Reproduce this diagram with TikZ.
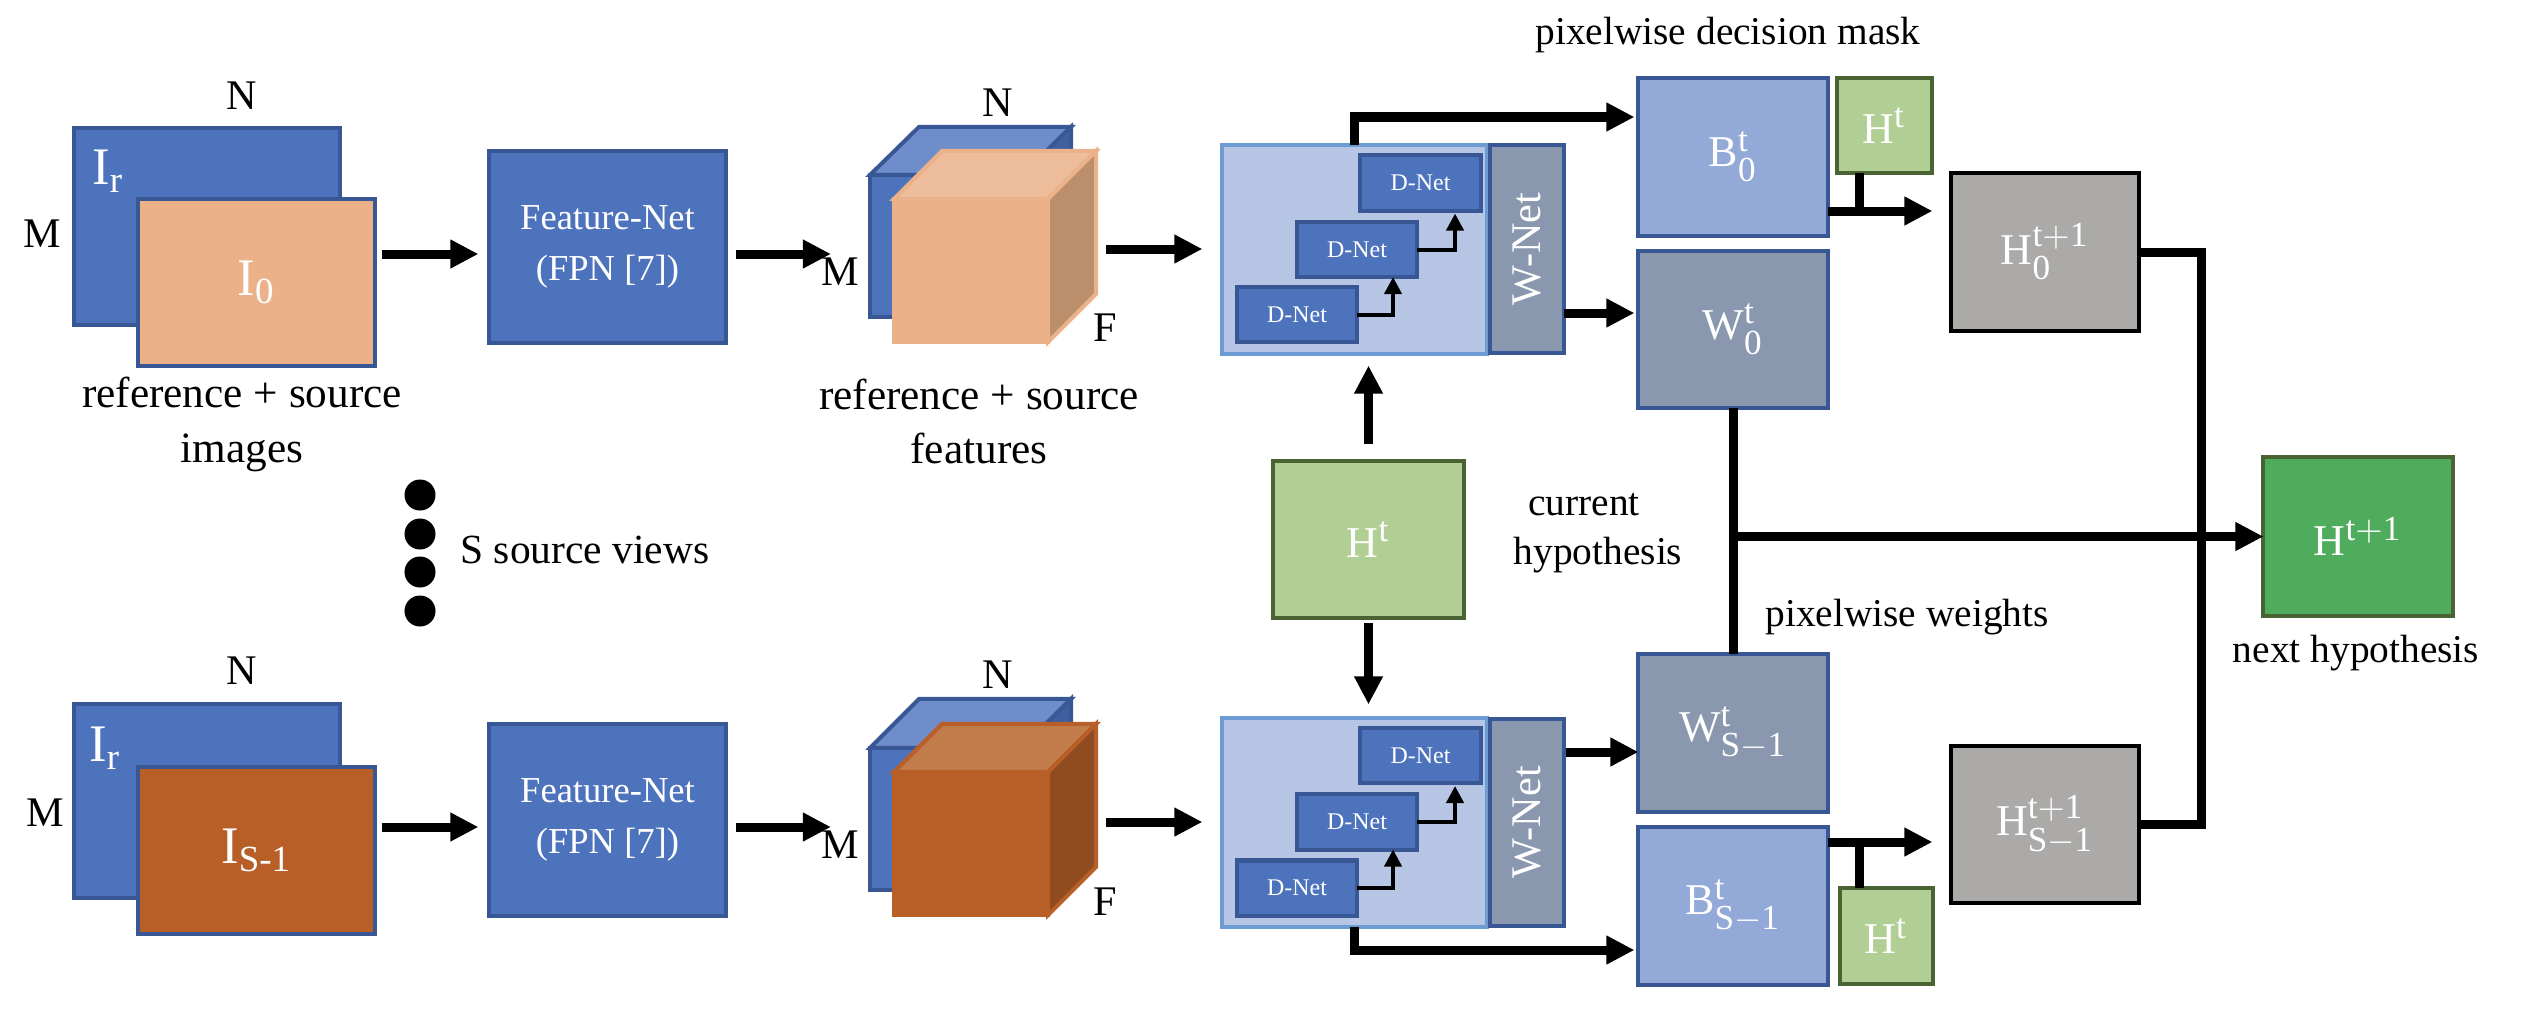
\documentclass[tikz,border=0pt]{standalone}
\usepackage{amsmath}
\usepackage{fontspec}
\setmainfont{Liberation Serif}
\usepackage{tikz}
\usetikzlibrary{arrows.meta,calc}
\DeclareMathSizes{12.5}{12.5}{10}{8}
\definecolor{netblue}{HTML}{4E73BD}
\definecolor{edgeblue}{HTML}{3A5795}
\definecolor{peach}{HTML}{EBB28A}
\definecolor{peachtop}{HTML}{EDBD9C}
\definecolor{peachside}{HTML}{BB8E6C}
\definecolor{rust}{HTML}{B85F28}
\definecolor{rusttop}{HTML}{C27C4B}
\definecolor{rustside}{HTML}{914B20}
\definecolor{cubetop}{HTML}{6F8DCB}
\definecolor{cubeside}{HTML}{3F5F9E}
\definecolor{panelfill}{HTML}{B7C6E4}
\definecolor{paneledge}{HTML}{6D9BD4}
\definecolor{slate}{HTML}{8A98AF}
\definecolor{maskblue}{HTML}{93A9D8}
\definecolor{hypgreen}{HTML}{B1CF95}
\definecolor{hypedge}{HTML}{4A6332}
\definecolor{nextgreen}{HTML}{4FAC5C}
\definecolor{stategray}{HTML}{ABAAA8}
\tikzset{
  netbox/.style={
    rectangle, draw=edgeblue, fill=#1, line width=0.04cm,
    text=white, inner sep=0pt, outer sep=0pt, align=center,
    font=\fontsize{10.4}{14.5}\selectfont
  },
  netbox/.default=netblue,
  dnet/.style={
    netbox, minimum width=1.2cm, minimum height=0.55cm,
    font=\fontsize{6.8}{8}\selectfont
  },
  wnet/.style={
    netbox=slate, minimum width=0.74cm, minimum height=2.07cm,
    font=\fontsize{12}{13}\selectfont
  },
  panel/.style={
    rectangle, draw=paneledge, fill=panelfill, line width=0.04cm, outer sep=0pt,
    minimum width=2.64cm, minimum height=2.08cm
  },
  valbox/.style={
    netbox=#1, minimum width=1.89cm, minimum height=1.57cm,
    font=\fontsize{12.5}{14}\selectfont
  },
  hypbox/.style={
    valbox=#1, draw=hypedge
  },
  hypbox/.default=hypgreen,
  statebox/.style={
    valbox=stategray, draw=black, minimum width=1.87cm
  },
  fatarrow/.style={
    -{Triangle[length=0.28cm, width=0.27cm]}, line width=0.09cm
  },
  fatwire/.style={line width=0.09cm},
  thinarrow/.style={
    -{Triangle[length=0.17cm, width=0.17cm]}, line width=0.04cm
  },
  labelnode/.style={
    font=\fontsize{12.3}{15.6}\selectfont, align=center, inner sep=0pt
  },
  notenode/.style={
    font=\fontsize{11.2}{13}\selectfont, align=center, inner sep=0pt
  },
  dimnode/.style={
    font=\fontsize{12}{14}\selectfont, inner sep=0pt
  },
  srcnode/.style={
    font=\fontsize{15}{18}\selectfont, text=white, inner sep=0pt
  },
  dotnode/.style={
    circle, fill=black, minimum size=0.31cm, inner sep=0pt
  },
}

\begin{document}
\begin{tikzpicture}[x=0.01cm, y=-0.01cm]
  \useasboundingbox (0,0) rectangle (2522,1018);

  % Upper row: images
  \node[netbox, minimum width=2.65cm, minimum height=1.96cm] (ir0) at (207,226.5) {};
  \node[srcnode] (ir0txt) at (108,171) {$\mathrm{I}_{\mathrm{r}}$};
  \node[netbox=peach, minimum width=2.36cm, minimum height=1.66cm, font=\fontsize{15}{18}\selectfont] (i0) at (256.5,282.5) {$\mathrm{I}_{\mathrm{0}}$};
  \node[netbox, minimum width=2.36cm, minimum height=1.91cm] (fn0) at (607.5,247) {Feature-Net\\(FPN [7])};
  \node[dimnode] (n0a) at (242,96) {N};
  \node[dimnode] (m0a) at (42,234) {M};
  \node[labelnode] (cap0a) at (242,424.5) {reference + source\\images};

  % Upper row: feature cube
  \node[netbox, minimum width=1.52cm, minimum height=1.42cm] (cb0) at (946,246) {};
  \draw[draw=edgeblue, fill=cubetop, line width=0.04cm] (cb0.north west) -- ++(49,-48) -- ++(152,0) -- (cb0.north east) -- cycle;
  \draw[draw=edgeblue, fill=cubeside, line width=0.04cm] (cb0.north east) -- ++(49,-48) -- ++(0,142) -- (cb0.south east) -- cycle;
  \node[netbox=peach, draw=peach, minimum width=1.54cm, minimum height=1.43cm] (cf0) at (971,270.5) {};
  \draw[draw=peach, fill=peachtop, line width=0.04cm] (cf0.north west) -- ++(48,-48) -- ++(154,0) -- (cf0.north east) -- cycle;
  \draw[draw=peach, fill=peachside, line width=0.04cm] (cf0.north east) -- ++(48,-48) -- ++(0,143) -- (cf0.south east) -- cycle;
  \node[dimnode] (n0b) at (998,103) {N};
  \node[dimnode] (m0b) at (840,272) {M};
  \node[dimnode] (f0) at (1105,328) {F};
  \node[labelnode] (cap0b) at (979,421.5) {reference + source\\features};

  % Upper row: D-Net and W-Net
  \node[panel] (panel0) at (1354.5,249.5) {};
  \node[wnet] (wn0) at (1526.5,249) {\rotatebox{90}{W-Net}};
  \node[dnet] (d03) at (1420.5,183) {D-Net};
  \node[dnet] (d02) at (1357,249.5) {D-Net};
  \node[dnet] (d01) at (1297,314.5) {D-Net};
  \draw[thinarrow] (d01.east) -| ([xshift=0.36cm]d02.south);
  \draw[thinarrow, shorten >=0.03cm] (d02.east) -| ([xshift=0.345cm]d03.south);

  % Upper row: outputs
  \node[valbox=maskblue] (b0) at (1733,157) {$\mathrm{B}^{\mathrm{t}}_{\mathrm{0}}$};
  \node[valbox=slate] (w0) at (1733,329.5) {$\mathrm{W}^{\mathrm{t}}_{\mathrm{0}}$};
  \node[hypbox, minimum width=0.95cm, minimum height=0.94cm] (ht0) at (1884,125.5) {$\mathrm{H}^{\mathrm{t}}$};
  \node[statebox] (h0) at (2045,252) {$\mathrm{H}^{\mathrm{t+1}}_{\mathrm{0}}$};
  \node[notenode] (capb) at (1728,35) {pixelwise decision mask};

  % Lower row: images
  \node[netbox, minimum width=2.65cm, minimum height=1.93cm] (ir1) at (207,801) {};
  \node[srcnode] (ir1txt) at (105,748) {$\mathrm{I}_{\mathrm{r}}$};
  \node[netbox=rust, minimum width=2.36cm, minimum height=1.66cm, font=\fontsize{15}{18}\selectfont] (i1) at (256.5,850.5) {$\mathrm{I}_{\mathrm{S\text{-}1}}$};
  \node[netbox, minimum width=2.36cm, minimum height=1.91cm] (fn1) at (607.5,820) {Feature-Net\\(FPN [7])};
  \node[dimnode] (n1a) at (242,671) {N};
  \node[dimnode] (m1a) at (45,813) {M};

  % Lower row: feature cube
  \node[netbox, minimum width=1.52cm, minimum height=1.42cm] (cb1) at (946,819) {};
  \draw[draw=edgeblue, fill=cubetop, line width=0.04cm] (cb1.north west) -- ++(49,-49) -- ++(152,0) -- (cb1.north east) -- cycle;
  \draw[draw=edgeblue, fill=cubeside, line width=0.04cm] (cb1.north east) -- ++(49,-49) -- ++(0,142) -- (cb1.south east) -- cycle;
  \node[netbox=rust, draw=rust, minimum width=1.54cm, minimum height=1.43cm] (cf1) at (971,843.5) {};
  \draw[draw=rust, fill=rusttop, line width=0.04cm] (cf1.north west) -- ++(48,-48) -- ++(154,0) -- (cf1.north east) -- cycle;
  \draw[draw=rust, fill=rustside, line width=0.04cm] (cf1.north east) -- ++(48,-48) -- ++(0,143) -- (cf1.south east) -- cycle;
  \node[dimnode] (n1b) at (998,675) {N};
  \node[dimnode] (m1b) at (840,845) {M};
  \node[dimnode] (f1) at (1105,902) {F};

  % Lower row: D-Net and W-Net
  \node[panel] (panel1) at (1354.5,822.5) {};
  \node[wnet] (wn1) at (1526.5,822.5) {\rotatebox{90}{W-Net}};
  \node[dnet] (d13) at (1420.5,755.5) {D-Net};
  \node[dnet] (d12) at (1357,822) {D-Net};
  \node[dnet] (d11) at (1297,888) {D-Net};
  \draw[thinarrow] (d11.east) -| ([xshift=0.36cm]d12.south);
  \draw[thinarrow, shorten >=0.03cm] (d12.east) -| ([xshift=0.345cm]d13.south);

  % Lower row: outputs
  \node[valbox=slate] (ws) at (1733,733) {$\mathrm{W}^{\mathrm{t}}_{\mathrm{S-1}}$};
  \node[valbox=maskblue] (bs) at (1733,906) {$\mathrm{B}^{\mathrm{t}}_{\mathrm{S-1}}$};
  \node[hypbox, minimum width=0.93cm, minimum height=0.95cm] (ht1) at (1886,936) {$\mathrm{H}^{\mathrm{t}}$};
  \node[statebox, minimum height=1.56cm] (hs) at (2045,824.5) {$\mathrm{H}^{\mathrm{t+1}}_{\mathrm{S-1}}$};

  % Middle
  \node[hypbox, minimum width=1.9cm, minimum height=1.56cm] (ht) at (1368.5,539.5) {$\mathrm{H}^{\mathrm{t}}$};
  \node[hypbox=nextgreen, minimum height=1.58cm] (hnext) at (2358,536.5) {$\mathrm{H}^{\mathrm{t+1}}$};
  \node[notenode] (capcur) at (1584,505) {current};
  \node[notenode] (caphyp) at (1598,555) {hypothesis};
  \node[notenode] (capw) at (1907,617) {pixelwise weights};
  \node[notenode] (capn) at (2356,653) {next hypothesis};
  \node[dotnode] (dot1) at (420,495) {};
  \node[dotnode] (dot2) at (420,534) {};
  \node[dotnode] (dot3) at (420,572) {};
  \node[dotnode] (dot4) at (420,611) {};
  \node[labelnode, font=\fontsize{11.8}{14}\selectfont] (capviews) at (585,550) {S source views};

  % Row heights of the arrows
  \coordinate (y0a) at (0,254);
  \coordinate (y0b) at (0,249);
  \coordinate (y0c) at (0,117);
  \coordinate (y0d) at (0,313);
  \coordinate (tap0) at (1859,211);
  \coordinate (y1a) at (0,827);
  \coordinate (y1b) at (0,822);
  \coordinate (y1c) at (0,950);
  \coordinate (y1d) at (0,752);
  \coordinate (tap1) at (1859,842);
  \coordinate (bus) at (2201,536.5);

  % Arrows
  \draw[fatarrow, shorten <=0.07cm, shorten >=0.11cm] (i0.east |- y0a) -- (fn0.west |- y0a);
  \draw[fatarrow, shorten <=0.1cm, shorten >=0.39cm] (fn0.east |- y0a) -- (cb0.west |- y0a);
  \draw[fatarrow, shorten <=0.1cm, shorten >=0.2cm] ([xshift=0.48cm]cf0.east |- y0b) -- (panel0.west |- y0b);
  \draw[fatarrow, shorten >=0.04cm] (panel0.north) |- (b0.west |- y0c);
  \draw[fatarrow, shorten >=0.04cm] (wn0.east |- y0d) -- (w0.west |- y0d);
  \draw[fatwire] (tap0 |- ht0.south) -- (tap0);
  \draw[fatarrow, shorten >=0.19cm] (b0.east |- tap0) -- (h0.west |- tap0);

  \draw[fatarrow, shorten <=0.07cm, shorten >=0.11cm] (i1.east |- y1a) -- (fn1.west |- y1a);
  \draw[fatarrow, shorten <=0.1cm, shorten >=0.39cm] (fn1.east |- y1a) -- (cb1.west |- y1a);
  \draw[fatarrow, shorten <=0.1cm, shorten >=0.2cm] ([xshift=0.48cm]cf1.east |- y1b) -- (panel1.west |- y1b);
  \draw[fatarrow, shorten >=0.04cm] (panel1.south) |- (bs.west |- y1c);
  \draw[fatarrow, shorten <=0.02cm] (wn1.east |- y1d) -- (ws.west |- y1d);
  \draw[fatwire] (tap1 |- ht1.north) -- (tap1);
  \draw[fatarrow, shorten >=0.19cm] (bs.east |- tap1) -- (hs.west |- tap1);

  \draw[fatarrow, shorten <=0.17cm, shorten >=0.12cm] (ht.north) -- (ht.north |- panel0.south);
  \draw[fatarrow, shorten <=0.05cm, shorten >=0.14cm] (ht.south) -- (ht.south |- panel1.north);

  \draw[fatwire] (w0.south) -- (ws.north);
  \draw[fatwire] (h0.east) -- (h0.east -| bus) -- (hs.east -| bus) -- (hs.east);
  \draw[fatarrow] (w0.south |- hnext.west) -- (hnext.west);
\end{tikzpicture}
\end{document}
